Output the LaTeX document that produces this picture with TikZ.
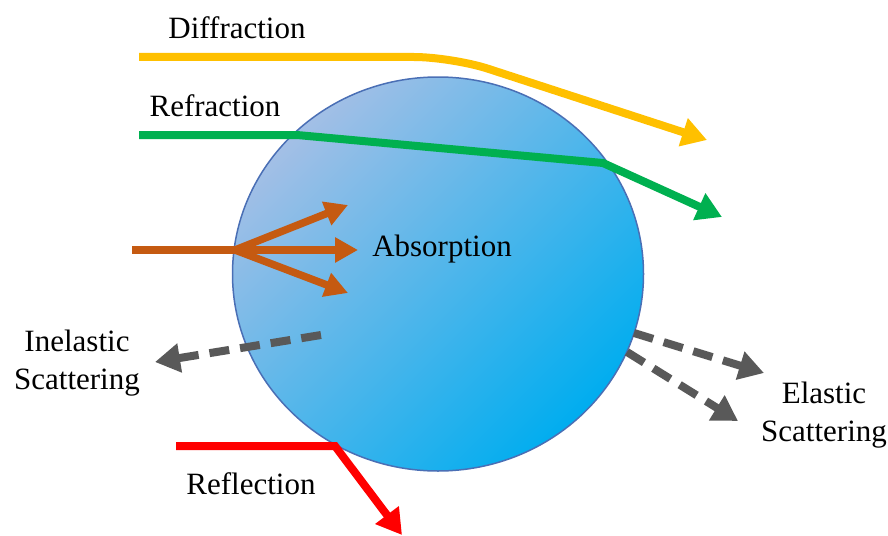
\documentclass[tikz,border=0pt]{standalone}
\usepackage{fontspec}
\setmainfont{Liberation Serif}
\usepackage{tikz}
\usepackage{xcolor}
\usetikzlibrary{shapes,arrows.meta,positioning,calc}

\definecolor{diffcol}{HTML}{FFC000}
\definecolor{refrcol}{HTML}{00B050}
\definecolor{abscol}{HTML}{C55A11}
\definecolor{reflcol}{HTML}{FF0000}
\definecolor{scatcol}{HTML}{595959}
\definecolor{droplight}{HTML}{A3BFE6}
\definecolor{dropdark}{HTML}{00ADEF}
\definecolor{dropedge}{HTML}{4A6FB5}

\begin{document}
\begin{tikzpicture}[
    x=1pt, y=-1pt,
    lbl/.style={font=\fontsize{31}{38}\selectfont, align=center, inner sep=0pt},
    drop/.style={ellipse, draw=dropedge, line width=1.5pt, minimum width=411pt, minimum height=394pt, inner sep=0pt, top color=droplight, bottom color=dropdark, shading angle=45},
    ray/.style={line width=8pt, -{Triangle[length=25pt,width=28pt]}},
    fork/.style={line width=7.5pt, abscol, -{Triangle[length=23pt,width=24pt]}},
    scat/.style={ray, scatcol, dash pattern=on 20pt off 11pt}
]
    \useasboundingbox (0,0) rectangle (888,535);
    \node[drop] (particle) at (438,274) {};

    \coordinate (diffIn) at (139,57);
    \coordinate (diffBend) at (452,57);
    \coordinate (diffOut) at (707,140);
    \coordinate (refrIn) at (139,135);
    \coordinate (refrEnter) at (297,135);
    \coordinate (refrExit) at (603,163);
    \coordinate (refrOut) at (722,217);
    \coordinate (absIn) at (132,250);
    \coordinate (absHit) at (235,250);
    \coordinate (absUp) at (348,205);
    \coordinate (absMid) at (358,250);
    \coordinate (absDown) at (348,293);
    \coordinate (inelFrom) at (321,335);
    \coordinate (inelTo) at (155,362);
    \coordinate (elFromA) at (634,333);
    \coordinate (elToA) at (764,373);
    \coordinate (elFromB) at (627,352);
    \coordinate (elToB) at (738,421);
    \coordinate (reflIn) at (176,446);
    \coordinate (reflHit) at (335,446);
    \coordinate (reflOut) at (402,535);

    \draw[ray, diffcol, rounded corners=38pt] (diffIn) -- (diffBend) -- (diffOut);
    \draw[ray, refrcol] (refrIn) -- (refrEnter) -- (refrExit) -- (refrOut);
    \draw[line width=7.5pt, abscol] (absIn) -- (absHit);
    \draw[fork] (absHit) -- (absUp);
    \draw[fork] (absHit) -- (absMid);
    \draw[fork] (absHit) -- (absDown);
    \draw[scat] (inelFrom) -- (inelTo);
    \draw[scat] (elFromA) -- (elToA);
    \draw[scat] (elFromB) -- (elToB);
    \draw[ray, reflcol] (reflIn) -- (reflHit) -- (reflOut);

    \node[lbl] (diffLabel) at (237,28) {Diffraction};
    \node[lbl] (refrLabel) at (215,106) {Refraction};
    \node[lbl] (absLabel) at (442,249) {Absorption};
    \node[lbl] (inelLabel) at (77,363) {Inelastic\\Scattering};
    \node[lbl] (elLabel) at (824,415) {Elastic\\Scattering};
    \node[lbl] (reflLabel) at (251,484) {Reflection};
\end{tikzpicture}
\end{document}
